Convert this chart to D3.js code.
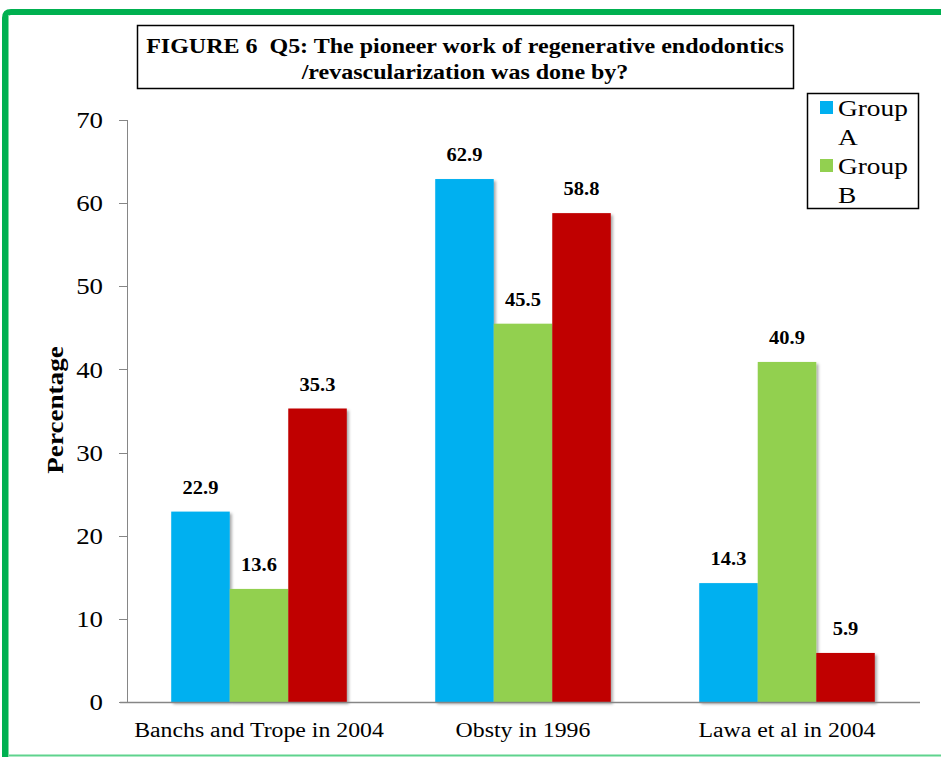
<!DOCTYPE html>
<meta charset="utf-8">
<body style="margin:0;background:#fff">
<script src="https://d3js.org/d3.v7.min.js"></script>
<style>
  body { font-family: "Liberation Serif", "Times New Roman", serif; }
  .axis path, .axis line { stroke: #868686; shape-rendering: crispEdges; }
  .axis text { font-family: "Liberation Serif", serif; fill: #000; }
</style>
<script>
// chart data
var categories = ["Banchs and Trope in 2004", "Obsty in 1996", "Lawa et al in 2004"];
var seriesNames = ["Group A", "Group B", "Group C"];
var groupA = [22.9, 62.9, 14.3];
var groupB = [13.6, 45.5, 40.9];
var groupC = [35.3, 58.8, 5.9];
var yTicks = [0, 10, 20, 30, 40, 50, 60, 70];
var legendNames = ["Group A", "Group B"];

var colors = ["#00b0f0", "#92d050", "#c00000"];
var seriesValues = [groupA, groupB, groupC];

var W = 941, H = 757;
var plot = {left: 127, right: 919, top: 120, bottom: 702};

var svg = d3.select("body").append("svg")
    .attr("width", W)
    .attr("height", H);

// text in the picture is a bit wider than the font, so stretch it sideways
function place(x, y, sx) {
  return "translate(" + x + "," + y + ") scale(" + sx + ",1)";
}

// drop shadow for bars
var defs = svg.append("defs");
var f = defs.append("filter").attr("id", "shadow")
    .attr("x", "-10%").attr("y", "-10%").attr("width", "130%").attr("height", "130%");
f.append("feDropShadow")
    .attr("dx", 2).attr("dy", 2).attr("stdDeviation", 1.5)
    .attr("flood-color", "#000").attr("flood-opacity", 0.35);

// outer green frame
svg.append("path")
    .attr("d", "M5,757 L5,18 Q5,12 11,12 L941,12")
    .attr("fill", "none")
    .attr("stroke", "#00b050")
    .attr("stroke-width", 6);
svg.append("line")
    .attr("x1", 8).attr("x2", 941).attr("y1", 755.5).attr("y2", 755.5)
    .attr("stroke", "#5fd38d").attr("stroke-width", 2);
svg.append("line")
    .attr("x1", 8.5).attr("x2", 8.5).attr("y1", 15).attr("y2", 757)
    .attr("stroke", "#7fdba0").attr("stroke-width", 1);

var x0 = d3.scaleBand()
    .domain(categories)
    .range([plot.left, plot.right])
    .paddingInner(0.335)
    .paddingOuter(0.1675);

var x1 = d3.scaleBand()
    .domain(seriesNames)
    .range([0, x0.bandwidth()]);

var y = d3.scaleLinear()
    .domain([0, 70])
    .range([plot.bottom, plot.top]);

// y axis
var yAxis = svg.append("g")
    .attr("class", "axis")
    .attr("transform", "translate(" + plot.left + ",0)")
    .call(d3.axisLeft(y).tickValues(yTicks).tickSize(8).tickPadding(13.4).tickSizeOuter(8));
yAxis.selectAll("text")
    .style("font-size", "24px")
    .attr("transform", "scale(1.12,1)");

// bars
var rows = categories.map(function(c, i) {
  return {cat: c, values: seriesNames.map(function(s, j) { return {key: s, value: seriesValues[j][i], idx: j}; })};
});

var groups = svg.selectAll(".cat")
  .data(rows)
  .enter().append("g")
    .attr("class", "cat")
    .attr("transform", function(d) { return "translate(" + x0(d.cat) + ",0)"; });

groups.selectAll("rect")
  .data(function(d) { return d.values; })
  .enter().append("rect")
    .attr("x", function(d) { return x1(d.key); })
    .attr("y", function(d) { return y(d.value); })
    .attr("width", x1.bandwidth())
    .attr("height", function(d) { return y(0) - y(d.value); })
    .attr("fill", function(d) { return colors[d.idx]; })
    .attr("filter", "url(#shadow)");

groups.selectAll("text.val")
  .data(function(d) { return d.values; })
  .enter().append("text")
    .attr("class", "val")
    .attr("transform", function(d) { return place(x1(d.key) + x1.bandwidth() / 2, y(d.value) - 18, 1.05); })
    .attr("text-anchor", "middle")
    .style("font-size", "19.5px")
    .style("font-weight", "bold")
    .text(function(d) { return d.value; });

// x axis baseline
svg.append("line")
    .attr("x1", 120).attr("x2", 920)
    .attr("y1", plot.bottom + 0.5).attr("y2", plot.bottom + 0.5)
    .attr("stroke", "#868686").attr("stroke-width", 1.5);

svg.selectAll(".catlabel")
  .data(categories)
  .enter().append("text")
    .attr("class", "catlabel")
    .attr("transform", function(d) { return place(x0(d) + x0.bandwidth() / 2, 737, 1.19); })
    .attr("text-anchor", "middle")
    .style("font-size", "20px")
    .text(function(d) { return d; });

// y axis title
svg.append("text")
    .attr("transform", "translate(63,410) rotate(-90) scale(1.13,1)")
    .attr("text-anchor", "middle")
    .style("font-size", "24px")
    .style("font-weight", "bold")
    .text("Percentage");

// title box
svg.append("rect")
    .attr("x", 137.5).attr("y", 25.5).attr("width", 656).attr("height", 63)
    .attr("fill", "#fff").attr("stroke", "#000").attr("stroke-width", 1.5);
svg.append("text")
    .attr("transform", place(465, 53, 1.2))
    .attr("text-anchor", "middle")
    .attr("xml:space", "preserve")
    .style("font-size", "20px")
    .style("font-weight", "bold")
    .text("FIGURE 6  Q5: The pioneer work of regenerative endodontics");
svg.append("text")
    .attr("transform", place(465, 79, 1.2))
    .attr("text-anchor", "middle")
    .style("font-size", "20px")
    .style("font-weight", "bold")
    .text("/revascularization was done by?");

// legend
svg.append("rect")
    .attr("x", 807.5).attr("y", 93.5).attr("width", 111).attr("height", 115)
    .attr("fill", "#fff").attr("stroke", "#000").attr("stroke-width", 1.5);
var legend = svg.selectAll(".legend")
  .data(legendNames)
  .enter().append("g")
    .attr("class", "legend")
    .attr("transform", function(d, i) { return "translate(0," + i * 58 + ")"; });
legend.append("rect")
    .attr("x", 820).attr("y", 101).attr("width", 13).attr("height", 13)
    .attr("fill", function(d, i) { return colors[i]; });
legend.append("text")
    .attr("transform", place(838, 116, 1.19))
    .style("font-size", "23px")
    .text(function(d) { return d.split(" ")[0]; });
legend.append("text")
    .attr("transform", place(838, 145, 1.19))
    .style("font-size", "23px")
    .text(function(d) { return d.split(" ")[1]; });
</script>
